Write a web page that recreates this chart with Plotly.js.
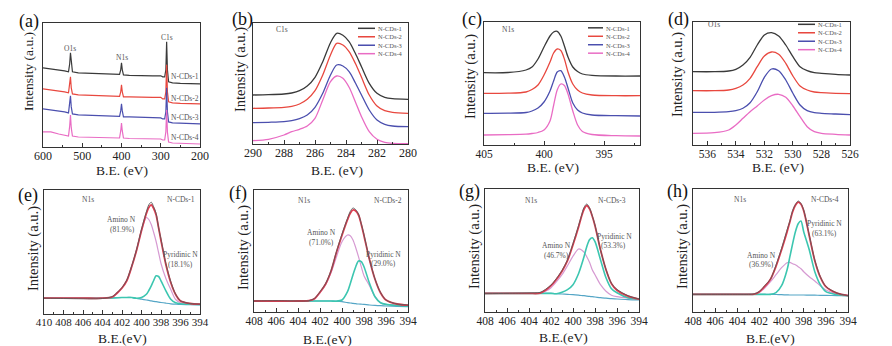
<!DOCTYPE html>
<html><head><meta charset="utf-8">
<script src="https://cdn.plot.ly/plotly-3.0.1.min.js"></script>
<style>html,body{margin:0;padding:0;background:#fff}#chart{width:892px;height:346px}</style>
</head><body><div id="chart"></div>
<script>
// ---------- DATA ----------
const seriesNames = ['N-CDs-1','N-CDs-2','N-CDs-3','N-CDs-4'];
// (a) survey
const a_x  = [600,580,560,545,535,532,530,528,525,510,480,450,420,405,402,400,398,395,380,350,320,300,295,290,287,285,283,280,270,250,230,200];
const a_n1 = [79,78,77,76,75,83,94,82,75,74,73.5,73,72.5,72.5,77,84,77,72,71.5,71,71,71,70,70,77,105,77,65,64,63.5,63.5,63];
const a_n2 = [58,57,56,55,54,62,70,59,53,52,51.5,51,50.5,50.5,55,62,55,50,50,49.5,49.5,49.5,48,48,55,82,55,45,44,43.5,43.5,43];
const a_n3 = [38,37,36,35,34,42,51,40,33,32,31.5,31,30.5,30.5,36,43,36,30,30,29.5,29.5,29,28,28,35,59,35,25,24,23.5,23,23];
const a_n4 = [15,15,13,12,11,21,32,19,11,10,9.5,9,9,9,16,24,16,9,8.5,8.5,8,8,7,7,15,37,15,5,4,3.5,3,3];
const a_peakNames = ['O1s','N1s','C1s'];
const a_peakX = [530,400,285];
// (b) C1s
const b_x  = [290,289,288,287.5,287,286.5,286,285.5,285,284.6,284.2,283.8,283.4,283,282.5,282,281.5,281,280];
const b_n1 = [49,49.3,50,51,53.3,58,66.7,82.3,101.3,110.7,108.7,102.3,90.7,77.3,60.7,50.7,46.7,45.3,44.7];
const b_n2 = [35.7,36,36.7,37.7,40,44.7,53.3,69,89,100.7,99,92.3,80.7,66.7,49,38,33.3,31.7,30.7];
const b_n3 = [21.3,21.7,22.3,23.3,25.3,29,36.7,50.7,69,79,78,72.3,61.3,49,34,24,19.7,18,17.3];
const b_n4 = [3.3,4.7,9,12.3,14.7,18,25.7,44,62.3,68,65.7,56.7,42.3,27.3,12.3,4.7,1.7,0.7,0.3];
// (c) N1s
const c_x  = [405,403,401.5,401,400.5,400,399.5,399.2,398.9,398.6,398.3,398,397.6,397.2,396.8,396,394,392];
const c_n1 = [72.3,72.5,75,78,86,98,109,113,113.7,109,99,88,78,73.5,71,69.7,69,69];
const c_n2 = [51.7,51.8,53,55.5,60,70,83,92,96,94.5,86,73,61,55,52,50,49.3,49.3];
const c_n3 = [31.7,31.8,32.5,34,37,43,54,64,73,74.3,68,57,42,35,32,30,29.3,29];
const c_n4 = [10,10.3,10.8,11.5,12.5,15,24,39.5,55,61,59.5,51,34,20,13.5,10.5,9.3,9];
// (d) O1s
const d_x  = [537,535.5,534.5,534,533.5,533,532.5,532,531.5,531,530.5,530,529.5,529,528.5,528,527,526];
const d_n1 = [73.3,73.3,74,75.7,80,87.7,100,110,112.3,109,100,88.3,78.3,74.3,72.3,71.7,70.7,70];
const d_n2 = [54.3,54.3,55,56.7,60,66.7,78.3,89,93,90.7,81.7,69,59,55,53,52.3,51.7,51.3];
const d_n3 = [32.7,32.7,33.3,34.3,36.7,42.3,53.3,67.7,76,74.3,65,51.7,40,34.3,32.3,31.7,31,30.3];
const d_n4 = [11.7,12.3,15,20,26.7,33.3,39,45,49.3,50.7,47.7,39,28.3,18.3,13.3,11.7,10.7,10];
// (e)-(h) N1s fits
const e_x     = [410,408,406,404,403,402.5,402,401.5,401,400.5,400,399.5,399.25,399,398.75,398.5,398.25,398,397.5,397,396.5,396,395,394];
const e_raw   = [15.3,15,14.7,15,17,21,26,33.7,47.7,64.3,84.3,101.7,108.7,111.3,106.7,100,86,74.3,50,32,19.3,12.7,10,9.3];
const e_fit   = [15.3,15.3,15.3,15.3,16.5,20.5,25.5,33,47,63.5,83,100,106,108.7,105,98.5,86,73,49,31,19,12.5,10,9.3];
const e_amino = [15.3,15.3,15.3,15.3,16.5,20,25.5,33,47,63.5,83,96,94,89,81,72,61,50,35,24,14,10.7,9.7,9.3];
const e_pyr   = [15.3,15.3,15.3,15.3,15.5,15.8,16,16,16,15.2,16,19.3,23,27.7,33,37.7,37,32.7,22.7,14.3,10.7,9.7,9.3,9];
const e_bg    = [15.3,15.3,15.3,15.3,15.5,15.8,16,16,16,15,14.3,13.5,13.1,12.7,12.2,11.8,11.4,11,10.3,9.7,9.3,9,8.8,8.7];
const n_x     = [408,406,404,403,402.5,402,401.5,401,400.5,400,399.5,399.25,399,398.75,398.5,398.25,398,397.5,397,396.5,396,395,394];
const f_raw   = [10.7,11,10.7,11,13.3,20,28,41,60.3,77.7,93.3,100.3,103.7,102,97.7,88,77,52.3,32.7,19.3,11.7,7.7,6.7];
const f_fit   = [10.7,10.7,10.7,11,13,19.5,27.5,40.5,59.5,76.5,92,98.5,101.7,100.7,96.7,87.5,76,52,32.5,19,11.7,7.7,6.5];
const f_amino = [10.7,10.7,10.7,11,12.7,19,27,39,55,70,76.7,76,71.7,64,55,45,36,26,15,9,7.3,6.7,6];
const f_pyr   = [10.7,10.7,10.7,10.7,10.7,10.7,10.7,10.7,10.5,11.7,20,28,37,45,50.7,50,45,28.3,15,9,7.3,6.3,5.7];
const f_bg    = [10.7,10.7,10.7,10.7,10.7,10.7,10.7,10.7,10.5,10,9,8.7,8.3,8,7.7,7.5,7.3,6.7,6.3,6,5.7,5.3,5];
const g_raw   = [18,18.3,18.7,19.3,22.3,26.7,33.3,41.3,52,68.3,86,95.3,104.3,107.7,104,96,86.7,61.7,42.3,28.3,22.3,16,12.7];
const g_fit   = [18.3,18.3,18.3,18.5,21.5,26,32.5,40.5,51,67,84.5,94.5,102.5,106,103,95.5,86,62,42,28,21.5,15.5,12.5];
const g_amino = [18.3,18.3,18.3,18.5,20.5,24,30,37,46,55.5,62.7,62,59.5,55,49.5,42,37,27,20.5,16.5,15,13.5,12.5];
const g_pyr   = [18.3,18.3,18.3,18.3,18.3,18.3,18,19.5,22,27,38,46,55,65,72,74,70,52,34,23,19,14,12.5];
const g_bg    = [18.3,18.3,18.3,18.3,18.3,18.3,18,17.7,17.3,17,16.5,16.2,16,15.6,15.3,15,14.7,14,13.5,13,12.7,12,11.7];
const h_raw   = [17.3,17.3,17.3,17.3,17.7,20.3,26.3,32.7,46.7,63.3,82,90.7,101.3,107.3,110.7,108.3,101.7,76.7,51.7,35,25.3,18.7,16];
const h_fit   = [17.3,17.3,17.3,17.3,17.5,20,25.5,32.5,45.5,62,80,90,100,106.5,109.5,107.5,101,76,51,34.5,25,18.5,16];
const h_amino = [17.3,17.3,17.3,17.3,17.3,19.5,24,30,37,44,49,49.3,48,47,45,43,40,35,30.7,26,21.7,18,16.5];
const h_pyr   = [17.3,17.3,17.3,17.3,17.3,17.3,17.3,17.3,19,26,42,55,68,80,88,90.7,80,62,40,27,20,17,16];
const h_bg    = [17.3,17.3,17.3,17.3,17.3,17.3,17.3,17.3,17.2,17,16.8,16.7,16.7,16.7,16.7,16.7,16.7,16.6,16.5,16.4,16.3,16.1,16];
const fitSamples = ['N-CDs-1','N-CDs-2','N-CDs-3','N-CDs-4'];
const aminoPct = ['81.9%','71.0%','46.7%','36.9%'];
const pyrPct   = ['18.1%','29.0%','53.3%','63.1%'];
const panelLetters = ['(a)','(b)','(c)','(d)','(e)','(f)','(g)','(h)'];
const xTitles = ['B.E. (eV)','B.E. (eV)','B.E. (eV)','B.E. (eV)','B.E.(eV)','B.E.(eV)','B.E.(eV)','B.E.(eV)'];
const yTitle = 'Intensity (a.u.)';

// ---------- STYLE / LAYOUT ----------
const W = 892, H = 346;
const SERIF = 'Liberation Serif, Times New Roman, serif';
const topColors = ['#3a3a3a','#e8483f','#4b4fae','#e96cc4'];
const fitColors = {raw:'#5a5a5a', fit:'#e03a4e', amino:'#d69ad2', pyr:'#3cc6b0', bg:'#55a6c6'};
const P = [
 {box:[43,200,22.7,147], xr:[600,200], yr:[0,124], dtick:100, tick0:200, minor:50, fs:12, letter:[29,21], yt:[28,72], xt:[122,171]},
 {box:[253,408,22.7,144], xr:[290,280], yr:[0,121.3], dtick:2, tick0:280, minor:1, fs:12, letter:[242,20], yt:[240,70], xt:[337,170]},
 {box:[484,640,21.7,145], xr:[405,392], yr:[0,123.3], tickvals:[405,400,395], minorvals:[402.5,397.5,392.5], fs:11.5, letter:[472,20], yt:[470,76], xt:[553,167]},
 {box:[693,850,21.7,145], xr:[537,526], yr:[0,123.3], dtick:2, tick0:526, minor:1, fs:11.5, letter:[678,20], yt:[678,75], xt:[778,167]},
 {box:[44,200,190,313.5], xr:[410,394], yr:[0,123.5], dtick:2, tick0:394, minor:1, fs:11, letter:[28,195], yt:[33,249], xt:[122,338]},
 {box:[254,408,190,311.7], xr:[408,394], yr:[0,121.7], dtick:2, tick0:394, minor:1, fs:11.5, letter:[238,193], yt:[243,248], xt:[327,339]},
 {box:[485,639,189,311.7], xr:[408,394], yr:[0,122.7], dtick:2, tick0:394, minor:1, fs:11.5, letter:[469,192], yt:[475,247], xt:[563,337]},
 {box:[693,848,189,311.7], xr:[408,394], yr:[0,122.7], dtick:2, tick0:394, minor:1, fs:11.5, letter:[677,192], yt:[683,247], xt:[770,338]}
];

const traces = [];
const layout = {width:W, height:H, margin:{l:0,r:0,t:0,b:0}, paper_bgcolor:'#fff', plot_bgcolor:'#fff',
  showlegend:false, annotations:[], shapes:[], font:{family:SERIF, color:'#222'}};

P.forEach((p,i)=>{
  const n = i+1, sfx = n===1?'':String(n);
  const xa = {domain:[p.box[0]/W, p.box[1]/W], anchor:'y'+sfx, range:p.xr, autorange:false,
    ticks:'inside', ticklen:4, tickwidth:1, tickcolor:'#333', showline:true, linecolor:'#333', linewidth:1, mirror:true,
    tickangle:0, ticklabelstandoff:-2,
    showgrid:false, zeroline:false, tickfont:{family:SERIF, size:p.fs, color:'#222'}};
  if(p.tickvals){ xa.tickmode='array'; xa.tickvals=p.tickvals; xa.minor={tickmode:'array', tickvals:p.minorvals, ticks:'inside', ticklen:2, tickcolor:'#333'}; }
  else { xa.dtick=p.dtick; xa.tick0=p.tick0; xa.minor={dtick:p.minor, ticks:'inside', ticklen:2, tickcolor:'#333'}; }
  const ya = {domain:[1-p.box[3]/H, 1-p.box[2]/H], anchor:'x'+sfx, range:p.yr, autorange:false,
    showticklabels:false, ticks:'', showline:true, linecolor:'#333', linewidth:1, mirror:true, showgrid:false, zeroline:false};
  layout['xaxis'+sfx] = xa; layout['yaxis'+sfx] = ya;
  layout.annotations.push({xref:'paper', yref:'paper', x:p.letter[0]/W, y:1-p.letter[1]/H, text:panelLetters[i],
    showarrow:false, xanchor:'center', yanchor:'middle', font:{family:SERIF, size:18, color:'#111'}});
  layout.annotations.push({xref:'paper', yref:'paper', x:p.yt[0]/W, y:1-p.yt[1]/H, text:yTitle, textangle:-90,
    showarrow:false, xanchor:'center', yanchor:'middle', font:{family:SERIF, size: i===0?13.5:14.5, color:'#222'}});
  layout.annotations.push({xref:'paper', yref:'paper', x:p.xt[0]/W, y:1-p.xt[1]/H, text:xTitles[i],
    showarrow:false, xanchor:'center', yanchor:'middle', borderpad:0, font:{family:SERIF, size:13.5, color:'#222'}});
});

function line(x,y,n,color,w,shape){
  const sfx = n===1?'':String(n);
  traces.push({type:'scatter', mode:'lines', x:x, y:y, xaxis:'x'+sfx, yaxis:'y'+sfx,
    line:{color:color, width:w, shape:shape||'spline', smoothing:0.8}, hoverinfo:'skip'});
}
function txt(n,x,y,t,size,anchor){
  const sfx = n===1?'':String(n);
  layout.annotations.push({xref:'x'+sfx, yref:'y'+sfx, x:x, y:y, text:t, showarrow:false,
    xanchor:anchor||'center', yanchor:'middle', font:{family:SERIF, size:size||7.5, color:'#555'}});
}

// (a)
[a_n1,a_n2,a_n3,a_n4].forEach((s,k)=>line(a_x,s,1,topColors[k],1.2,'linear'));
const a_peakY = [98,89,109];
a_peakNames.forEach((t,k)=>txt(1,a_peakX[k],a_peakY[k],t,7.5));
const a_lblY = [70,48,29,9];
seriesNames.forEach((t,k)=>txt(1,238,a_lblY[k],t,7.5));
// (b),(c),(d)
[[b_x,[b_n1,b_n2,b_n3,b_n4]],[c_x,[c_n1,c_n2,c_n3,c_n4]],[d_x,[d_n1,d_n2,d_n3,d_n4]]].forEach((pd,j)=>{
  pd[1].forEach((s,k)=>line(pd[0],s,j+2,topColors[k],1.3));
});
txt(2,288.1,114.7,'C1s',7.5); txt(3,403,115.7,'N1s',7.5); txt(4,535.5,120,'O1s',7.5);
// manual legends: one multi-line text block + short line swatches
const LEGFS = 6.5, LSP = LEGFS*1.3;
const legSpec = [{x0:358,x1:375,yc:41},{x0:588,x1:603,yc:40.5},{x0:798,x1:815,yc:37}];
legSpec.forEach(L=>{
  seriesNames.forEach((t,k)=>{
    const yy = L.yc + (k-1.5)*LSP;
    layout.shapes.push({type:'line', xref:'paper', yref:'paper', x0:L.x0/W, x1:L.x1/W, y0:1-yy/H, y1:1-yy/H,
      line:{color:topColors[k], width:1.5}});
  });
  layout.annotations.push({xref:'paper', yref:'paper', x:(L.x1+2)/W, y:1-L.yc/H, text:seriesNames.join('<br>'), showarrow:false,
    xanchor:'left', yanchor:'middle', align:'left', borderpad:0, font:{family:SERIF, size:LEGFS, color:'#555'}});
});
// (e)-(h)
const fitSets = [
  [e_x,e_raw,e_fit,e_amino,e_pyr,e_bg],
  [n_x,f_raw,f_fit,f_amino,f_pyr,f_bg],
  [n_x,g_raw,g_fit,g_amino,g_pyr,g_bg],
  [n_x,h_raw,h_fit,h_amino,h_pyr,h_bg]
];
fitSets.forEach((s,j)=>{
  const n = j+5;
  line(s[0],s[5],n,fitColors.bg,1.2);
  line(s[0],s[3],n,fitColors.amino,1.2);
  line(s[0],s[4],n,fitColors.pyr,1.6);
  line(s[0],s[2],n,fitColors.fit,1.8);
  line(s[0],s[1],n,fitColors.raw,0.9);
});
const lblPos = [
  {n1s:[405.45,114.3], smp:[395.9,114.3], am:[402.1,94.3], amp:[402.0,84.3], py:[396.05,58.7], pyp:[396.05,49.3]},
  {n1s:[403.5,111.7], smp:[395.8,111.7], am:[401.9,79.3], amp:[401.9,69], py:[396.25,57.7], pyp:[396.25,48.3]},
  {n1s:[403.85,111.7], smp:[396.5,111.7], am:[401.5,66], amp:[401.5,56], py:[396.2,75], pyp:[396.3,66]},
  {n1s:[403.75,112.7], smp:[396.1,112.7], am:[401.85,56.7], amp:[401.85,47.3], py:[396.1,88.3], pyp:[396.1,78.3]}
];
lblPos.forEach((L,j)=>{
  const n=j+5;
  txt(n,L.n1s[0],L.n1s[1],'N1s',7.5);
  txt(n,L.smp[0],L.smp[1],fitSamples[j],7.5);
  txt(n,L.am[0],L.am[1],'Amino N',7.5);
  txt(n,L.amp[0],L.amp[1],'('+aminoPct[j]+')',7.5);
  txt(n,L.py[0],L.py[1],'Pyridinic N',7.5);
  txt(n,L.pyp[0],L.pyp[1],'('+pyrPct[j]+')',7.5);
});

Plotly.newPlot('chart', traces, layout, {staticPlot:true, displayModeBar:false});
</script></body></html>
